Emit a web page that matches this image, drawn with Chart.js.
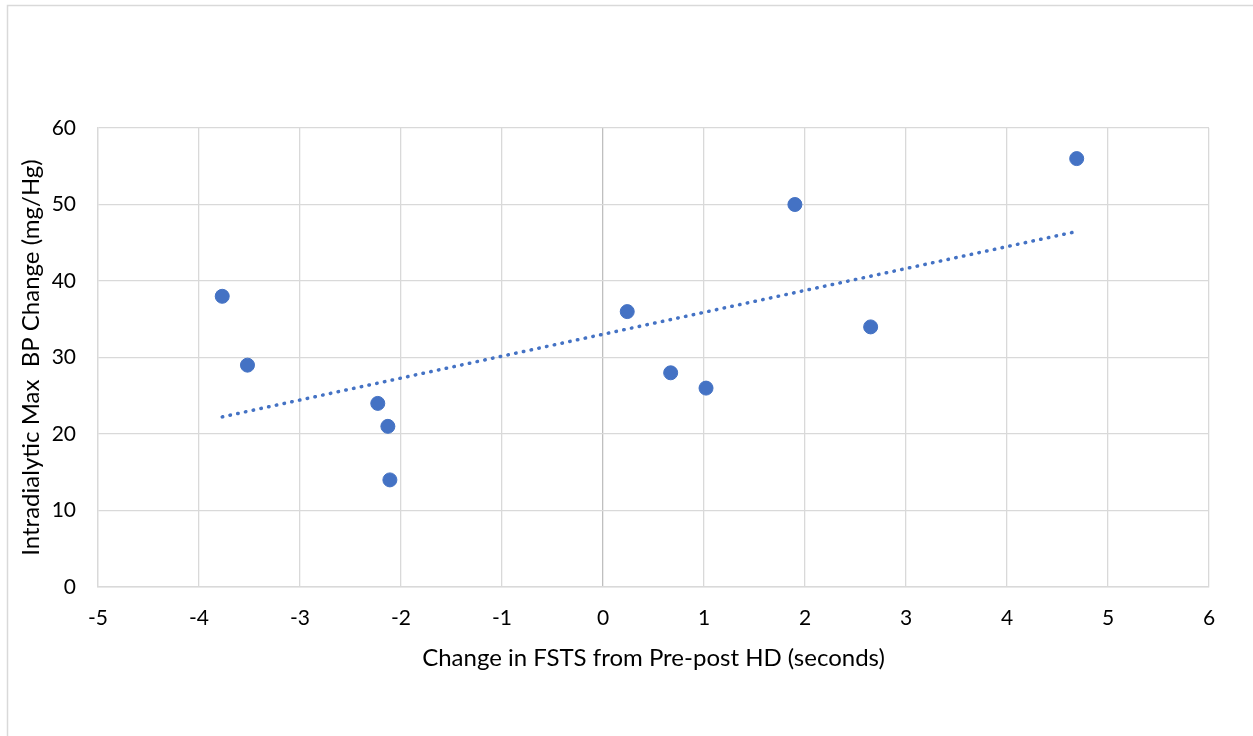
<!DOCTYPE html>
<html>
<head>
<meta charset="utf-8">
<script src="https://cdn.jsdelivr.net/npm/chart.js@4"></script>
<style>
  html, body { margin: 0; padding: 0; background: #fff; }
  canvas { display: block; }
</style>
</head>
<body>
<canvas id="chart" width="1253" height="736"></canvas>
<script>
// data
const fstsChange = [-3.77, -3.52, -2.23, -2.13, -2.11, 0.24, 0.67, 1.02, 1.90, 2.65, 4.69];
const bpChange = [38, 29, 24, 21, 14, 36, 28, 26, 50, 34, 56];
const xTitle = "Change in FSTS from Pre-post HD (seconds)";
const yTitle = "Intradialytic Max  BP Change (mg/Hg)";

const blue = "#4472C4";
const gridGrey = "#d9d9d9";
const fontFamily = "Lato, 'Open Sans', sans-serif";

// linear trendline (least squares) from the points
const n = fstsChange.length;
const mx = fstsChange.reduce((a, b) => a + b, 0) / n;
const my = bpChange.reduce((a, b) => a + b, 0) / n;
let sxy = 0, sxx = 0;
fstsChange.forEach((x, i) => {
  sxy += (x - mx) * (bpChange[i] - my);
  sxx += (x - mx) * (x - mx);
});
const slope = sxy / sxx;
const intercept = my - slope * mx;
const xMin = Math.min(...fstsChange);
const xMax = Math.max(...fstsChange);
const trend = [xMin, xMax].map(x => ({ x: x, y: intercept + slope * x }));

// outer frame of the chart object
const frame = {
  id: "frame",
  beforeDraw(chart) {
    const c = chart.ctx;
    c.save();
    c.fillStyle = "#fff";
    c.fillRect(0, 0, chart.width, chart.height);
    c.strokeStyle = gridGrey;
    c.lineWidth = 1.5;
    c.strokeRect(7.5, 5.5, chart.width + 20, chart.height + 20);
    c.restore();
  }
};

new Chart(document.getElementById("chart"), {
  type: "scatter",
  data: {
    datasets: [
      {
        label: "points",
        data: fstsChange.map((x, i) => ({ x: x, y: bpChange[i] })),
        backgroundColor: blue,
        borderColor: blue,
        pointRadius: 7,
        pointHoverRadius: 7,
        order: 1
      },
      {
        type: "line",
        label: "trend",
        data: trend,
        borderColor: blue,
        borderWidth: 3.5,
        borderDash: [0.5, 7.4],
        borderCapStyle: "round",
        pointRadius: 0,
        fill: false,
        order: 2
      }
    ]
  },
  options: {
    responsive: false,
    animation: false,
    layout: { padding: { left: 0, top: 128, right: 44, bottom: 56 } },
    plugins: {
      legend: { display: false },
      tooltip: { enabled: false }
    },
    scales: {
      x: {
        type: "linear",
        min: -5,
        max: 6,
        ticks: {
          stepSize: 1,
          color: "#000",
          padding: 19,
          font: { family: fontFamily, size: 21 }
        },
        grid: {
          drawTicks: false,
          lineWidth: 1.3,
          color: ctx => (ctx.tick && ctx.tick.value === 0 ? "#bfbfbf" : gridGrey)
        },
        border: { color: gridGrey, width: 1.5 },
        title: {
          display: true,
          text: xTitle,
          color: "#000",
          font: { family: fontFamily, size: 24 },
          padding: { top: 6, bottom: 7 }
        },
        afterFit(scale) { scale.height = 93; }
      },
      y: {
        min: 0,
        max: 60,
        ticks: {
          stepSize: 10,
          color: "#000",
          padding: 22,
          font: { family: fontFamily, size: 21 }
        },
        grid: {
          drawTicks: false,
          lineWidth: 1.3,
          color: gridGrey
        },
        border: { color: gridGrey, width: 1.3 },
        title: {
          display: true,
          text: yTitle,
          color: "#000",
          font: { family: fontFamily, size: 24 },
          padding: { top: 17, bottom: 0 }
        },
        afterFit(scale) { scale.width = 98; }
      }
    }
  },
  plugins: [frame]
});
</script>
</body>
</html>
